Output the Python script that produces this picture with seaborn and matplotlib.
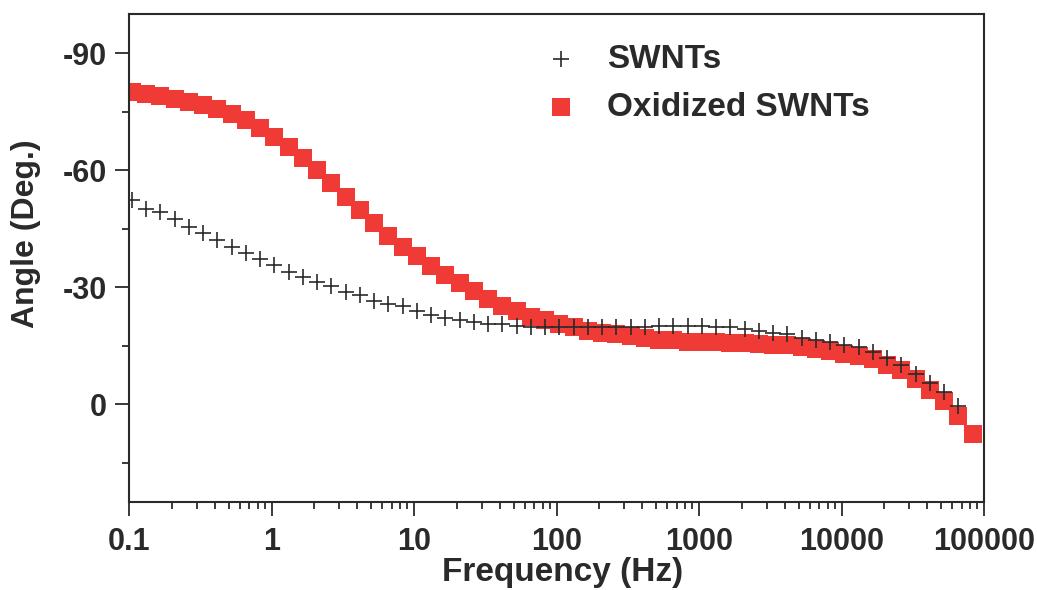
import matplotlib
matplotlib.use("Agg")
import matplotlib.pyplot as plt
import matplotlib.ticker as mticker
import seaborn as sns
import pandas as pd

# ---- data ----
freq = [0.1047, 0.1318, 0.1660, 0.2089, 0.2630, 0.3311, 0.4169, 0.5248, 0.6607, 0.8318,
        1.047, 1.318, 1.660, 2.089, 2.630, 3.311, 4.169, 5.248, 6.607, 8.318,
        10.47, 13.18, 16.60, 20.89, 26.30, 33.11, 41.69, 52.48, 66.07, 83.18,
        104.7, 131.8, 166.0, 208.9, 263.0, 331.1, 416.9, 524.8, 660.7, 831.8,
        1047, 1318, 1660, 2089, 2630, 3311, 4169, 5248, 6607, 8318,
        10470, 13180, 16600, 20890, 26300, 33110, 41690, 52480, 66070, 83180]

swnt_angle = [-52.4, -50.1, -49.3, -47.6, -45.5, -44.0, -42.2, -40.4, -38.9, -37.3,
              -35.8, -34.0, -32.7, -31.4, -30.2, -28.9, -27.9, -26.6, -25.8, -25.1,
              -24.0, -23.0, -22.2, -21.5, -21.0, -20.7, -20.5, -20.2, -19.9, -19.7,
              -19.7, -19.7, -19.7, -19.7, -19.9, -19.9, -19.9, -20.2, -20.2, -20.2,
              -20.2, -19.9, -19.7, -19.4, -18.9, -18.4, -17.9, -17.1, -16.6, -15.9,
              -15.3, -14.6, -13.3, -12.0, -10.0, -7.9, -5.6, -3.1, 0.5]

ox_angle = [-80.0, -79.5, -79.0, -78.2, -77.5, -76.7, -75.7, -74.4, -72.9, -70.8,
            -68.5, -66.0, -63.2, -60.1, -56.8, -53.2, -49.9, -46.5, -43.2, -40.4,
            -38.1, -35.5, -33.2, -31.2, -29.1, -27.1, -25.3, -23.8, -22.5, -21.5,
            -20.5, -19.7, -18.9, -18.4, -17.9, -17.4, -16.9, -16.6, -16.4, -16.1,
            -15.9, -15.9, -15.7, -15.6, -15.5, -15.3, -15.1, -14.8, -14.3, -13.8,
            -13.0, -12.3, -11.5, -10.2, -8.7, -6.6, -3.8, -0.8, 3.1, 7.7]

series_names = ["SWNTs", "Oxidized SWNTs"]
x_ticks = [0.1, 1, 10, 100, 1000, 10000, 100000]
x_ticklabels = ["0.1", "1", "10", "100", "1000", "10000", "100000"]
y_ticks = [-90, -60, -30, 0]
y_ticklabels = ["-90", "-60", "-30", "0"]

df_swnt = pd.DataFrame({"freq": freq[:len(swnt_angle)], "angle": swnt_angle})
df_ox = pd.DataFrame({"freq": freq, "angle": ox_angle})

sns.set_theme(style="white")
plt.rcParams["font.family"] = ["Liberation Sans", "DejaVu Sans"]
plt.rcParams["font.weight"] = "bold"

fig = plt.figure(figsize=(10.37, 5.90), dpi=100)
ax = fig.add_axes([0.1244, 0.1492, 0.8245, 0.8271])

red = "#F03A35"
dark = "#2a2a2a"

sns.scatterplot(data=df_ox, x="freq", y="angle", marker="s", s=160, color=red,
                linewidth=0, label=series_names[1], ax=ax, zorder=2)
sns.scatterplot(data=df_swnt, x="freq", y="angle", marker="+", s=140, color=dark,
                linewidth=1.2, label=series_names[0], ax=ax, zorder=3)

ax.set_xscale("log")
ax.set_xlim(0.1, 100000)
ax.set_ylim(25, -100)

ax.set_xticks(x_ticks)
ax.set_xticklabels(x_ticklabels)
ax.xaxis.set_minor_locator(mticker.LogLocator(base=10, subs=range(2, 10), numticks=20))
ax.xaxis.set_minor_formatter(mticker.NullFormatter())
ax.set_yticks(y_ticks)
ax.set_yticklabels(y_ticklabels)
ax.yaxis.set_minor_locator(mticker.MultipleLocator(15))

ax.tick_params(axis="both", which="major", direction="out", length=10, width=1.3,
               color=dark, labelsize=22, labelcolor=dark, pad=8,
               bottom=True, left=True, top=False, right=False)
ax.tick_params(axis="y", which="major", pad=6)
ax.tick_params(axis="both", which="minor", direction="out", length=5, width=1.3,
               color=dark, bottom=True, left=True, top=False, right=False)
for lab in ax.get_xticklabels() + ax.get_yticklabels():
    lab.set_fontweight("bold")

for sp in ax.spines.values():
    sp.set_visible(True)
    sp.set_linewidth(1.5)
    sp.set_color(dark)

ax.set_xlabel("Frequency (Hz)", fontsize=24, fontweight="bold", color=dark)
ax.set_ylabel("Angle (Deg.)", fontsize=23, fontweight="bold", color=dark)
ax.xaxis.set_label_coords(0.507, -0.112)
ax.yaxis.set_label_coords(-0.103, 0.549)

handles, labels = ax.get_legend_handles_labels()
order = [labels.index(series_names[0]), labels.index(series_names[1])]
ax.legend([handles[i] for i in order], [labels[i] for i in order],
          loc="upper left", bbox_to_anchor=(0.454, 0.979), frameon=False,
          prop={"size": 24, "weight": "bold"}, handletextpad=0.7,
          labelspacing=0.5, borderaxespad=0.2, handlelength=1.4)
for t in ax.get_legend().get_texts():
    t.set_color(dark)

fig.savefig("out.png", dpi=100)
